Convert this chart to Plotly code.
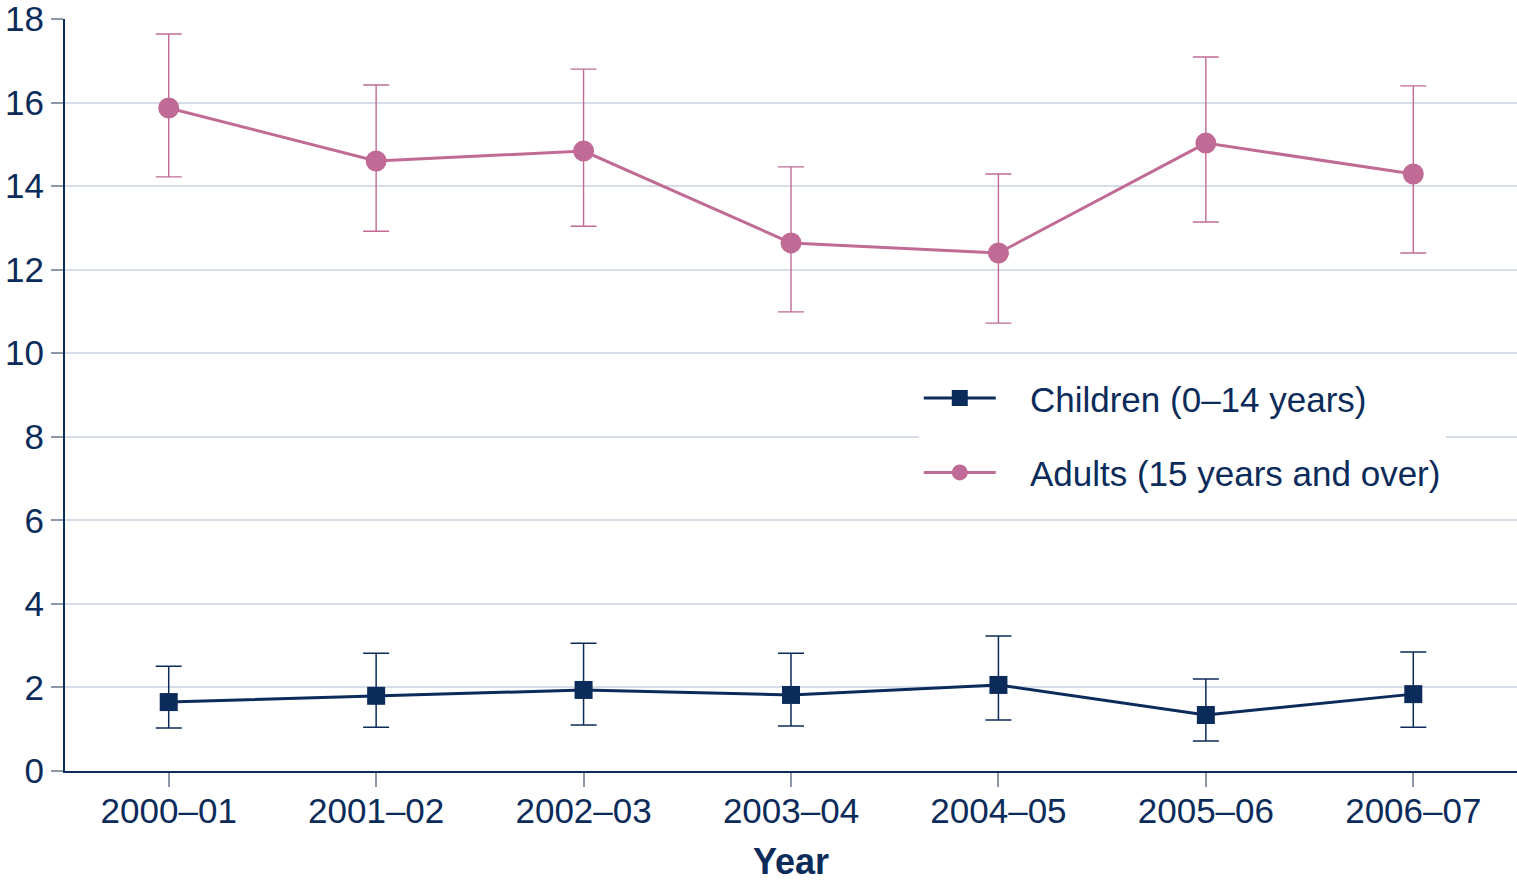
import plotly.graph_objects as go

years = ["2000–01", "2001–02", "2002–03", "2003–04", "2004–05", "2005–06", "2006–07"]

children = [1.65, 1.80, 1.94, 1.82, 2.06, 1.34, 1.84]
children_hi = [2.51, 2.82, 3.06, 2.82, 3.23, 2.20, 2.85]
children_lo = [1.03, 1.05, 1.10, 1.08, 1.22, 0.72, 1.05]

adults = [15.87, 14.60, 14.84, 12.64, 12.40, 15.03, 14.29]
adults_hi = [17.64, 16.42, 16.80, 14.46, 14.29, 17.09, 16.40]
adults_lo = [14.22, 12.92, 13.04, 10.99, 10.72, 13.14, 12.40]

y_ticks = [0, 2, 4, 6, 8, 10, 12, 14, 16, 18]

NAVY = "#0b2b5a"
PINK = "#c06b95"
GRID = "#d7dde8"
TICK = "#8c97a8"
FONT = "Liberation Sans, Arial, sans-serif"
PAD = "\u00a0\u00a0\u00a0"

fig = go.Figure()

fig.add_trace(go.Scatter(
    x=years, y=children, name=PAD + "Children (0–14 years)",
    mode="lines+markers", legendgroup="c",
    line=dict(color=NAVY, width=3),
    marker=dict(symbol="square", size=18, color=NAVY),
    error_y=dict(type="data", symmetric=False,
                 array=[h - v for h, v in zip(children_hi, children)],
                 arrayminus=[v - l for v, l in zip(children, children_lo)],
                 color=NAVY, thickness=1.5, width=13),
))

fig.add_trace(go.Scatter(
    x=years, y=adults, name=PAD + "Adults (15 years and over)",
    mode="lines+markers", legendgroup="a",
    line=dict(color=PINK, width=3),
    marker=dict(symbol="circle", size=21, color=PINK),
    error_y=dict(type="data", symmetric=False,
                 array=[h - v for h, v in zip(adults_hi, adults)],
                 arrayminus=[v - l for v, l in zip(adults, adults_lo)],
                 color=PINK, thickness=1.4, width=13),
))

fig.update_layout(
    width=1517, height=886,
    margin=dict(l=65, r=0, t=19, b=115),
    paper_bgcolor="white", plot_bgcolor="white",
    font=dict(family=FONT, size=35, color=NAVY),
    showlegend=True,
    legend=dict(
        x=0.588, y=0.535, xanchor="left", yanchor="top",
        bgcolor="white", borderwidth=0,
        traceorder="grouped", tracegroupgap=26,
        font=dict(family=FONT, size=35, color=NAVY),
        itemwidth=72,
    ),
    xaxis=dict(
        type="category", range=[-0.5, 6.5], automargin=False,
        showline=True, linecolor=NAVY, linewidth=2,
        ticks="outside", ticklen=14, tickcolor=TICK, tickwidth=1.5,
        showgrid=False, zeroline=False, ticklabelstandoff=-6,
        tickfont=dict(family=FONT, size=35, color=NAVY),
        title=dict(text="<b>Year</b>", font=dict(family=FONT, size=36, color=NAVY), standoff=20),
    ),
    yaxis=dict(
        range=[0, 18], tickvals=y_ticks, automargin=False,
        showline=True, linecolor=NAVY, linewidth=2,
        ticks="outside", ticklen=12, tickcolor=TICK, tickwidth=1.5,
        showgrid=True, gridcolor=GRID, gridwidth=1.5,
        zeroline=False, ticklabeloverflow="allow",
        tickfont=dict(family=FONT, size=35, color=NAVY),
    ),
)

fig.write_html("out.html", config={"displayModeBar": False},
               post_script="document.body.style.margin='0';document.body.style.padding='0';")
